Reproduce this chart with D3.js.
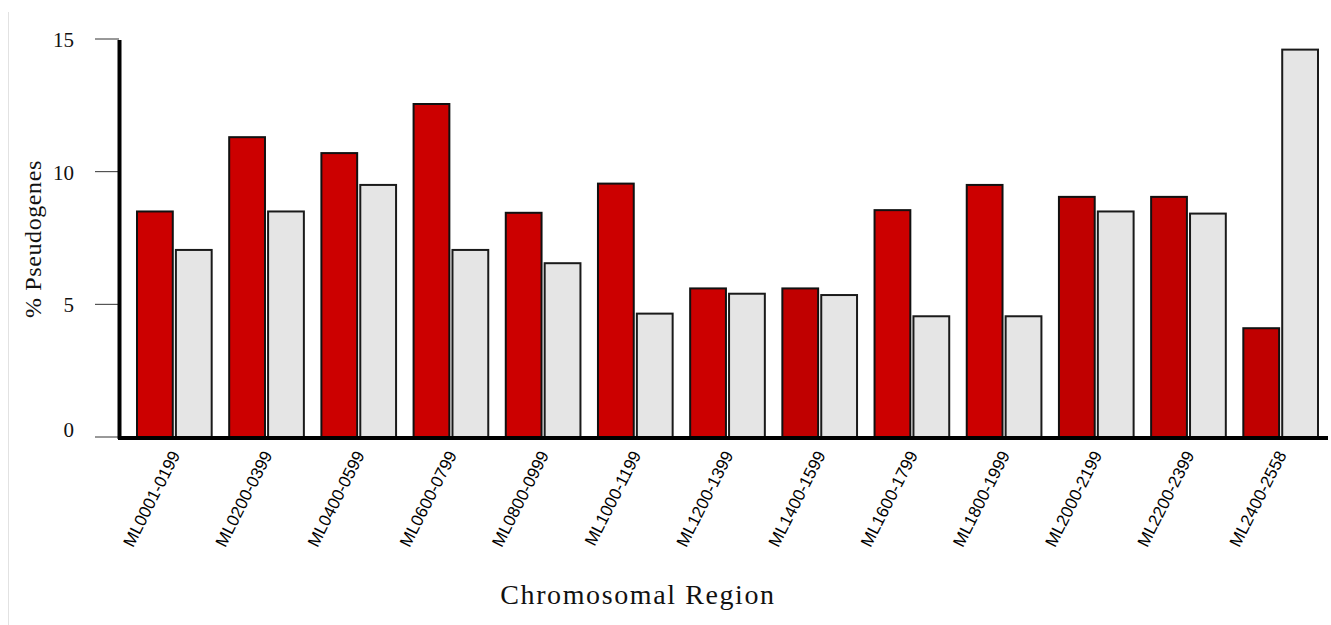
<!DOCTYPE html>
<html>
<head>
<meta charset="utf-8">
<script src="https://d3js.org/d3.v7.min.js"></script>
<style>
  body { margin: 0; background: #fff; }
  svg { display: block; }
</style>
</head>
<body>
<svg id="chart" width="1331" height="625"></svg>
<script>
// chromosomal regions (x categories)
const regions = [
    'ML0001-0199', 'ML0200-0399', 'ML0400-0599', 'ML0600-0799', 'ML0800-0999',
    'ML1000-1199', 'ML1200-1399', 'ML1400-1599', 'ML1600-1799', 'ML1800-1999',
    'ML2000-2199', 'ML2200-2399', 'ML2400-2558'
];

// % pseudogenes, red series and grey series
const redValues  = [8.5, 11.3, 10.7, 12.55, 8.45, 9.55, 5.6, 5.6, 8.55, 9.5, 9.05, 9.05, 4.1];
const greyValues = [7.05, 8.5, 9.5, 7.05, 6.55, 4.65, 5.4, 5.35, 4.55, 4.55, 8.5, 8.42, 14.6];

// a few of the red bars are a slightly darker shade in the original
const redShades = ['#cc0000', '#cc0000', '#cc0000', '#cc0000', '#cc0000', '#cc0000', '#cc0000',
                   '#c00000', '#cc0000', '#cc0000', '#c00000', '#c00000', '#c00000'];

const yTicks = [0, 5, 10, 15];

const svg = d3.select('#chart');

// faint frame line on the left
svg.append('line')
    .attr('x1', 8.5).attr('x2', 8.5)
    .attr('y1', 12).attr('y2', 625)
    .attr('stroke', '#e2e2e2').attr('stroke-width', 1);

const x = d3.scaleBand()
    .domain(regions)
    .range([137, 1318])
    .paddingInner(0.19)
    .paddingOuter(0);

const xInner = d3.scaleBand()
    .domain(['red', 'grey'])
    .range([0, x.bandwidth()])
    .paddingInner(0.08);

const y = d3.scaleLinear()
    .domain([0, 15])
    .range([437, 39]);

const rows = regions.map((r, i) => ({
    region: r, red: redValues[i], grey: greyValues[i], shade: redShades[i]
}));

const groups = svg.append('g').selectAll('g')
    .data(rows)
    .join('g')
    .attr('transform', d => `translate(${x(d.region)},0)`);

groups.append('rect')
    .attr('x', xInner('red'))
    .attr('y', d => y(d.red))
    .attr('width', xInner.bandwidth())
    .attr('height', d => y(0) - y(d.red))
    .attr('fill', d => d.shade)
    .attr('stroke', '#111')
    .attr('stroke-width', 2);

groups.append('rect')
    .attr('x', xInner('grey'))
    .attr('y', d => y(d.grey))
    .attr('width', xInner.bandwidth())
    .attr('height', d => y(0) - y(d.grey))
    .attr('fill', '#e5e5e5')
    .attr('stroke', '#1a1a1a')
    .attr('stroke-width', 2);

// y axis: thin ticks left of a heavy spine
const yAxis = svg.append('g');
yAxis.selectAll('line.tick')
    .data(yTicks)
    .join('line')
    .attr('class', 'tick')
    .attr('x1', 95).attr('x2', 119)
    .attr('y1', d => y(d)).attr('y2', d => y(d))
    .attr('stroke', '#333').attr('stroke-width', 1);

yAxis.selectAll('text')
    .data(yTicks)
    .join('text')
    .attr('x', 74)
    .attr('y', d => y(d) + (d === 0 ? 0 : 8))
    .attr('text-anchor', 'end')
    .style('font-family', '"Liberation Serif", "Times New Roman", serif')
    .style('font-size', '21px')
    .attr('fill', '#111')
    .text(d => d);

svg.append('line')
    .attr('x1', 119.5).attr('x2', 119.5)
    .attr('y1', y(15) + 1).attr('y2', y(0) + 2)
    .attr('stroke', '#000').attr('stroke-width', 4);

// x axis baseline
svg.append('line')
    .attr('x1', 118).attr('x2', 1328)
    .attr('y1', 438).attr('y2', 438)
    .attr('stroke', '#000').attr('stroke-width', 4);

// rotated region labels
svg.append('g').selectAll('text')
    .data(regions)
    .join('text')
    .attr('transform', d => `translate(${x(d) + x.bandwidth() / 2 + 1},452) rotate(-63)`)
    .attr('text-anchor', 'end')
    .attr('dy', '0.35em')
    .style('font-family', '"Liberation Sans", Arial, sans-serif')
    .style('font-size', '17px')
    .attr('fill', '#000')
    .text(d => d);

// axis titles
svg.append('text')
    .attr('transform', 'translate(41,239) rotate(-90)')
    .attr('text-anchor', 'middle')
    .style('font-family', '"Liberation Serif", "Times New Roman", serif')
    .style('font-size', '24px')
    .style('letter-spacing', '0.6px')
    .attr('fill', '#111')
    .text('%  Pseudogenes');

svg.append('text')
    .attr('x', 638)
    .attr('y', 604)
    .attr('text-anchor', 'middle')
    .style('font-family', '"Liberation Serif", "Times New Roman", serif')
    .style('font-size', '28px')
    .style('letter-spacing', '1.6px')
    .attr('fill', '#111')
    .text('Chromosomal Region');
</script>
</body>
</html>
